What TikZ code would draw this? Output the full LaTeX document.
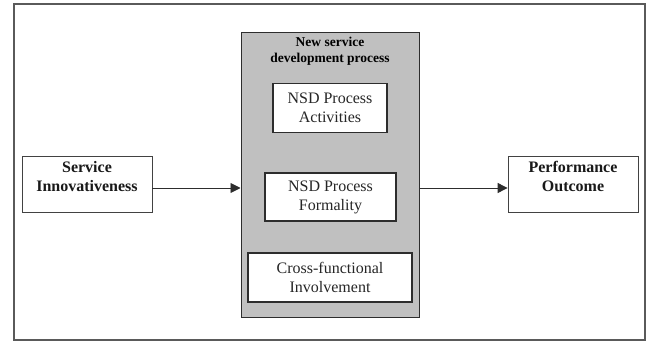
\documentclass[tikz,border=0pt]{standalone}
\usepackage{fontspec}
\setmainfont{Liberation Serif}
\usetikzlibrary{arrows.meta}
\definecolor{framegray}{RGB}{90,90,90}
\definecolor{fillgray}{RGB}{192,192,192}
\definecolor{linegray}{RGB}{45,45,45}
\tikzset{
  x=1pt, y=-1pt,
  whitebox/.style={draw=linegray, line width=1.1pt, fill=white, inner sep=0pt},
  sidebox/.style={draw=linegray!90, line width=0.8pt, fill=white, inner sep=0pt, minimum width=130pt, minimum height=56pt},
  boxtext/.style={font=\fontsize{16}{19}\selectfont, align=center, text=black!85},
  boldtext/.style={font=\fontsize{16}{19}\selectfont\bfseries, align=center, text=black!90},
  conn/.style={draw=linegray, line width=0.9pt, -{Triangle[length=10pt,width=10pt]}}
}
\begin{document}
\begin{tikzpicture}
\useasboundingbox (0,0) rectangle (647,342);
\draw[framegray, line width=1.4pt] (14,4) rectangle (645,340);
% gray process box
\node[draw=linegray, line width=1pt, fill=fillgray, inner sep=0pt, minimum width=178pt, minimum height=284pt] (proc) at (330,175) {};
\node[font=\fontsize{13.5}{16}\selectfont\bfseries, align=center] (title) at (330,51) {New service\\development process};
% inner boxes
\node[whitebox, minimum width=114pt, minimum height=49pt] (act) at (330,108) {};
\node[boxtext] at (act.center) {NSD Process\\Activities};
\node[whitebox, minimum width=131pt, minimum height=48pt] (form) at (330.5,197) {};
\node[boxtext] at (form.center) {NSD Process\\Formality};
\node[whitebox, minimum width=164pt, minimum height=49pt] (cross) at (330,277.5) {};
\node[boxtext] at (cross.center) {Cross-functional\\Involvement};
% side boxes
\node[sidebox] (si) at (87,184) {};
\node[boldtext] at (87,177) {Service\\Innovativeness};
\node[sidebox] (po) at (573,184) {};
\node[boldtext] at (573,176) {Performance\\Outcome};
% connectors
\coordinate (pin) at (proc.west |- 0,188);
\coordinate (pout) at (proc.east |- 0,188);
\draw[conn] (si.east |- pin) -- (pin);
\draw[conn] (pout) -- (po.west |- pout);
\end{tikzpicture}
\end{document}
